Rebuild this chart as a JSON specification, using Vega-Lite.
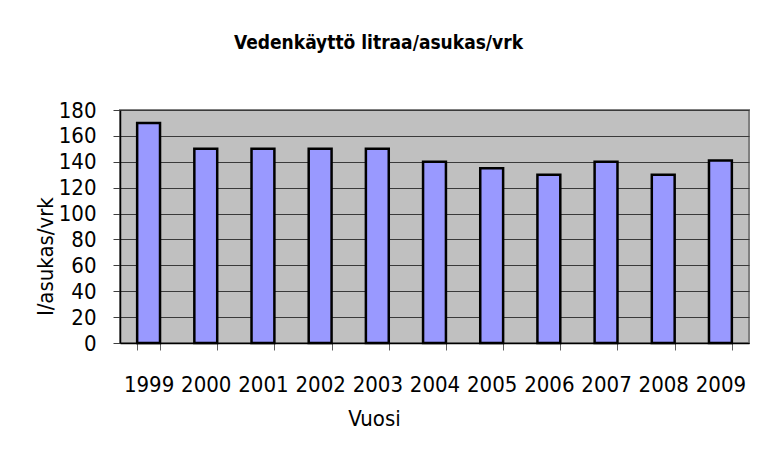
{
  "$schema": "https://vega.github.io/schema/vega-lite/v6.json",
  "autosize": {"type": "none"},
  "width": 629,
  "height": 233,
  "padding": {"left": 120, "top": 110, "right": 11, "bottom": 114},
  "background": "white",
  "title": {
    "text": "Vedenkäyttö litraa/asukas/vrk",
    "frame": "group",
    "anchor": "middle",
    "baseline": "alphabetic",
    "offset": 31,
    "dx": -56,
    "font": "'DejaVu Sans Condensed', 'Liberation Sans', sans-serif",
    "fontSize": 19,
    "fontWeight": "bold",
    "color": "black"
  },
  "data": {
    "values": [
      {"Vuosi": "1999", "arvo": 170},
      {"Vuosi": "2000", "arvo": 150},
      {"Vuosi": "2001", "arvo": 150},
      {"Vuosi": "2002", "arvo": 150},
      {"Vuosi": "2003", "arvo": 150},
      {"Vuosi": "2004", "arvo": 140},
      {"Vuosi": "2005", "arvo": 135},
      {"Vuosi": "2006", "arvo": 130},
      {"Vuosi": "2007", "arvo": 140},
      {"Vuosi": "2008", "arvo": 130},
      {"Vuosi": "2009", "arvo": 141}
    ]
  },
  "mark": {"type": "bar", "fill": "#9999FF", "stroke": "black", "strokeWidth": 2.5},
  "encoding": {
    "x": {
      "field": "Vuosi",
      "type": "nominal",
      "scale": {"paddingInner": 0.6, "paddingOuter": 0.3},
      "axis": {
        "title": "Vuosi",
        "labelAngle": 0,
        "tickBand": "extent",
        "tickSize": 7,
        "tickColor": "#606060",
        "domainColor": "black",
        "domainWidth": 1.5,
        "labelPadding": 24,
        "labelFont": "'DejaVu Sans Condensed', 'Liberation Sans', sans-serif",
        "labelFontSize": 22,
        "labelColor": "black",
        "titleFont": "'DejaVu Sans Condensed', 'Liberation Sans', sans-serif",
        "titleFontSize": 22,
        "titleFontWeight": "normal",
        "titleColor": "black",
        "titleBaseline": "alphabetic",
        "titleX": 254,
        "titleY": 82,
        "grid": false
      }
    },
    "y": {
      "field": "arvo",
      "type": "quantitative",
      "scale": {"domain": [0, 180], "nice": false},
      "axis": {
        "title": "l/asukas/vrk",
        "values": [0, 20, 40, 60, 80, 100, 120, 140, 160, 180],
        "tickSize": 7,
        "tickColor": "#404040",
        "domainColor": "black",
        "domainWidth": 1.5,
        "labelPadding": 17,
        "labelFont": "'DejaVu Sans Condensed', 'Liberation Sans', sans-serif",
        "labelFontSize": 22,
        "labelColor": "black",
        "titleFont": "'DejaVu Sans Condensed', 'Liberation Sans', sans-serif",
        "titleFontSize": 22,
        "titleFontWeight": "normal",
        "titleColor": "black",
        "titleAngle": 270,
        "titleBaseline": "bottom",
        "titleX": -63,
        "titleY": 146,
        "grid": true,
        "gridColor": "#3a3a3a",
        "gridWidth": 1
      }
    }
  },
  "config": {
    "view": {"fill": "#C0C0C0", "stroke": "#808080", "strokeWidth": 2}
  }
}
